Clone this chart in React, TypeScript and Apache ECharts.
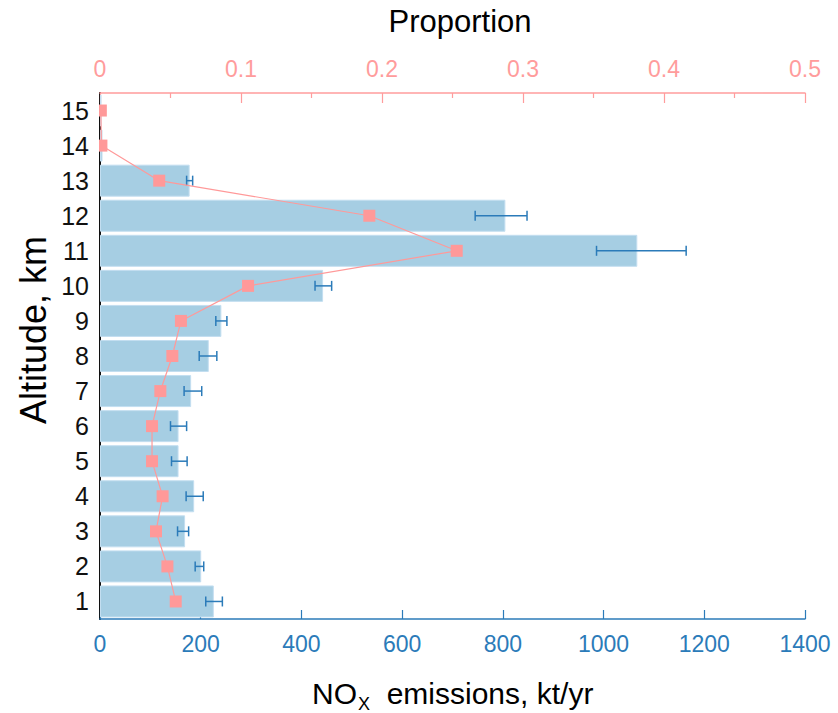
import React, { useEffect, useRef } from 'react';
import * as echarts from 'echarts';

// Altitude bins (km), bottom to top
const altitudes = ['1', '2', '3', '4', '5', '6', '7', '8', '9', '10', '11', '12', '13', '14', '15'];
// NOx emissions, kt/yr
const emissions = [226, 201, 169, 187, 156, 156, 181, 216, 241, 443, 1067, 805, 178, 5, 3];
// Error bar extents, kt/yr
const errLow = [210, 189, 154, 171, 142, 140, 167, 197, 230, 427, 986, 745, 172, null, null];
const errHigh = [243, 206, 176, 205, 173, 172, 202, 232, 252, 460, 1164, 848, 184, null, null];
// Proportion of total
const proportion = [0.0537, 0.0478, 0.0397, 0.0444, 0.0369, 0.0369, 0.0428, 0.0513, 0.0574, 0.105, 0.253, 0.191, 0.042, 0.001, 0.0006];

const emissionAxis = { min: 0, max: 1400, interval: 200 };
const proportionAxis = { min: 0, max: 0.5, interval: 0.1 };

const BLUE = '#2b7bb9';
const PINK = '#ff9c9c';
const BAR = '#a6cee3';
const FONT_NAME = 'Liberation Sans';
const FONT = '"Liberation Sans", Arial, sans-serif';

function measure(text: string, size: number): number {
  const ctx = document.createElement('canvas').getContext('2d');
  if (!ctx) return text.length * size * 0.55;
  ctx.font = `${size}px "${FONT_NAME}"`;
  return ctx.measureText(text).width;
}

export default function App() {
  const ref = useRef<HTMLDivElement>(null);

  useEffect(() => {
    const chart = echarts.init(ref.current!, null, { renderer: 'svg' });
    const errData: any[] = [];
    altitudes.forEach((_, i) => {
      if (errLow[i] != null && errHigh[i] != null) errData.push([errLow[i], errHigh[i], i]);
    });

    // x-axis name with subscript, laid out piece by piece
    const nameSize = 30;
    const subSize = 18;
    const x0 = 312;
    const base = 704;
    const wNO = measure('NO', nameSize);
    const wX = measure('X', subSize);
    const mid = (baseline: number, fs: number) => baseline - 0.3465 * fs;

    chart.setOption({
      animation: false,
      backgroundColor: '#ffffff',
      textStyle: { fontFamily: FONT },
      grid: { left: 100, right: 33, top: 93, bottom: 94, containLabel: false },
      xAxis: [
        {
          type: 'value',
          position: 'bottom',
          min: emissionAxis.min,
          max: emissionAxis.max,
          interval: emissionAxis.interval,
          axisLine: { show: true, lineStyle: { color: BLUE, width: 1.5 } },
          axisTick: { show: true, inside: true, length: 9, lineStyle: { color: BLUE, width: 1.2 } },
          axisLabel: {
            color: BLUE,
            fontSize: 23,
            margin: 13,
            fontFamily: FONT,
            formatter: (v: number) => String(v),
          },
          splitLine: { show: false },
        },
        {
          type: 'value',
          position: 'top',
          min: proportionAxis.min,
          max: proportionAxis.max,
          interval: proportionAxis.interval,
          axisLine: { show: true, lineStyle: { color: PINK, width: 1.5 } },
          axisTick: { show: true, inside: true, length: 10, lineStyle: { color: PINK, width: 1.2 } },
          minorTick: { show: true, splitNumber: 2, length: 5, lineStyle: { color: PINK, width: 1.2 } },
          axisLabel: {
            color: PINK,
            fontSize: 23,
            margin: 13,
            fontFamily: FONT,
            formatter: (v: number) => String(Math.round(v * 10) / 10),
          },
          splitLine: { show: false },
        },
      ],
      yAxis: [
        {
          type: 'category',
          position: 'left',
          data: altitudes,
          axisLine: { show: true, lineStyle: { color: '#111', width: 2 } },
          axisTick: { show: false },
          axisLabel: { color: '#111', fontSize: 25, margin: 11, fontFamily: FONT },
          splitLine: { show: false },
        },
        {
          type: 'category',
          position: 'right',
          data: altitudes,
          axisLine: { show: true, lineStyle: { color: '#111', width: 1.5 } },
          axisTick: { show: false },
          axisLabel: { show: false },
          splitLine: { show: false },
        },
      ],
      series: [
        {
          type: 'bar',
          xAxisIndex: 0,
          yAxisIndex: 0,
          data: emissions,
          barWidth: 32,
          itemStyle: { color: BAR, borderColor: '#c3def0', borderWidth: 1 },
          z: 1,
        },
        {
          type: 'custom',
          xAxisIndex: 0,
          yAxisIndex: 0,
          data: errData,
          encode: { x: [0, 1], y: 2 },
          z: 3,
          renderItem: (params: any, api: any) => {
            const lo = api.coord([api.value(0), api.value(2)]);
            const hi = api.coord([api.value(1), api.value(2)]);
            const y = lo[1];
            const h = 5;
            const st = { stroke: BLUE, lineWidth: 1.5 };
            return {
              type: 'group',
              children: [
                { type: 'line', shape: { x1: lo[0], y1: y, x2: hi[0], y2: y }, style: st },
                { type: 'line', shape: { x1: lo[0], y1: y - h, x2: lo[0], y2: y + h }, style: st },
                { type: 'line', shape: { x1: hi[0], y1: y - h, x2: hi[0], y2: y + h }, style: st },
              ],
            };
          },
        },
        {
          type: 'line',
          xAxisIndex: 1,
          yAxisIndex: 0,
          data: proportion.map((p, i) => [p, altitudes[i]]),
          symbol: 'rect',
          symbolSize: 12,
          itemStyle: { color: '#ff9999' },
          lineStyle: { color: '#ff9999', width: 1.2 },
          z: 4,
        },
      ],
      graphic: [
        {
          type: 'rect',
          shape: { x: 90, y: 95, width: 9, height: 70 },
          style: { fill: '#ffffff' },
          z: 50,
        },
        {
          type: 'text',
          x: 460,
          y: 21,
          style: {
            text: 'Proportion',
            fontSize: 31,
            fontFamily: FONT,
            fill: '#000',
            textAlign: 'center',
            textVerticalAlign: 'middle',
          },
        },
        {
          type: 'text',
          x: x0,
          y: mid(base, nameSize),
          style: {
            text: 'NO',
            fontSize: nameSize,
            fontFamily: FONT,
            fill: '#000',
            textAlign: 'left',
            textVerticalAlign: 'middle',
          },
        },
        {
          type: 'text',
          x: x0 + wNO + 1,
          y: mid(base + 6, subSize),
          style: {
            text: 'X',
            fontSize: subSize,
            fontFamily: FONT,
            fill: '#000',
            textAlign: 'left',
            textVerticalAlign: 'middle',
          },
        },
        {
          type: 'text',
          x: x0 + wNO + 1 + wX,
          y: mid(base, nameSize),
          style: {
            text: '  emissions, kt/yr',
            fontSize: nameSize,
            fontFamily: FONT,
            fill: '#000',
            textAlign: 'left',
            textVerticalAlign: 'middle',
          },
        },
        {
          type: 'text',
          x: 33,
          y: 330,
          rotation: Math.PI / 2,
          style: {
            text: 'Altitude, km',
            fontSize: 36,
            fontFamily: FONT,
            fill: '#000',
            textAlign: 'center',
            textVerticalAlign: 'middle',
          },
        },
      ],
    });
    return () => chart.dispose();
  }, []);

  return (
    <div
      ref={ref}
      style={{ position: 'absolute', left: 0, top: 0, width: 838, height: 713, background: '#fff' }}
    />
  );
}
